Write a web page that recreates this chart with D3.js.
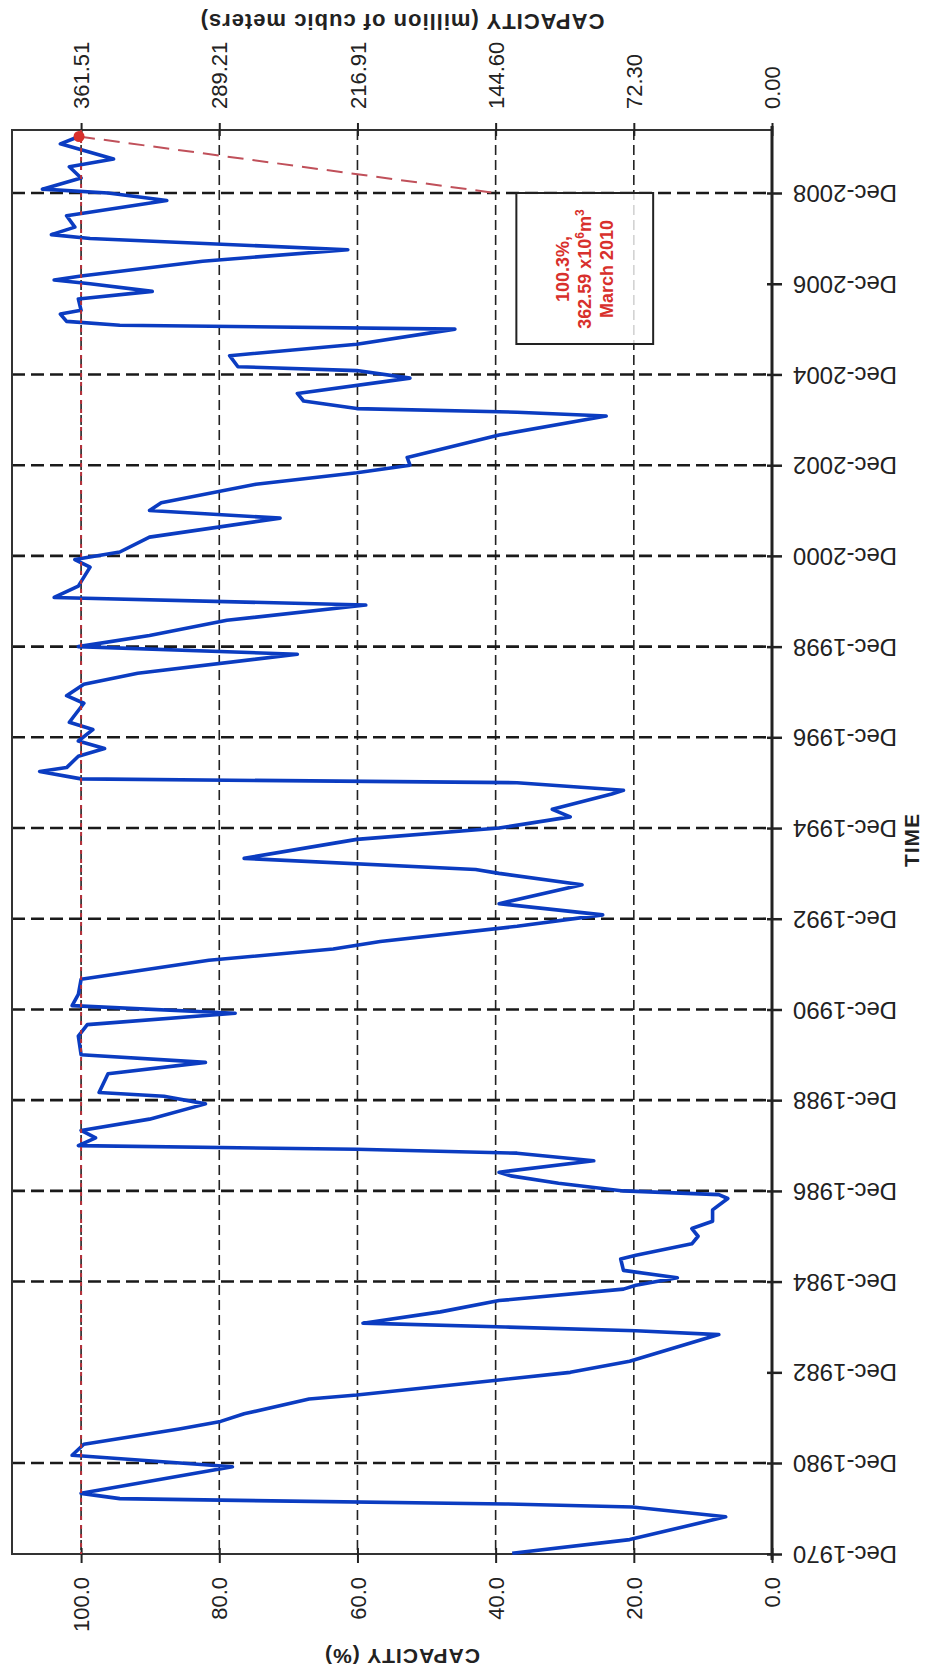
<!DOCTYPE html>
<html>
<head>
<meta charset="utf-8">
<script src="https://cdn.jsdelivr.net/npm/d3@7"></script>
<style>
  body { margin: 0; background: #fff; }
  svg { display: block; font-family: "Liberation Sans", Arial, sans-serif; }
</style>
</head>
<body>
<svg></svg>
<script>
// reservoir storage, % of full capacity (month of reading)
const months = ["1971-01","1972-07","1975-01","1976-02","1976-06","1976-11","1977-01","1977-08","1980-07","1981-02",
  "1981-05","1981-09","1981-11","1982-01","1982-05","1982-06","1982-10","1982-12","1983-03","1983-10",
  "1983-11","1983-12","1984-01","1984-04","1984-07","1984-10","1984-11","1985-01","1985-03","1985-06",
  "1985-07","1985-10","1985-12","1986-02","1986-04","1986-07","1986-10","1986-11","1986-12","1987-02",
  "1987-04","1987-05","1987-08","1987-10","1987-11","1987-12","1988-02","1988-04","1988-07","1988-11",
  "1989-01","1989-02","1989-07","1989-10","1989-12","1990-05","1990-08","1990-11","1991-01","1991-04",
  "1991-08","1992-01","1992-04","1992-06","1992-10","1993-01","1993-04","1993-09","1993-12","1994-01",
  "1994-04","1994-09","1994-12","1995-03","1995-05","1995-09","1995-10","1995-12","1996-01","1996-03",
  "1996-04","1996-07","1996-09","1996-11","1997-02","1997-04","1997-09","1997-11","1998-02","1998-05",
  "1998-10","1998-12","1999-03","1999-07","1999-11","2000-01","2000-04","2000-09","2000-11","2001-01",
  "2001-05","2001-10","2001-12","2002-02","2002-07","2002-10","2002-12","2003-02","2003-08","2004-01",
  "2004-02","2004-03","2004-05","2004-07","2004-11","2005-01","2005-02","2005-05","2005-08","2005-12",
  "2006-01","2006-02","2006-04","2006-05","2006-08","2006-10","2006-12","2007-01","2007-02","2007-06",
  "2007-09","2007-12","2008-01","2008-03","2008-06","2008-10","2008-12","2009-01","2009-04","2009-07",
  "2009-09","2010-01","2010-03"];
const capacityPct = [37.6,20.6,6.7,20.2,38.6,79.8,94.4,100,78.1,101.3,
  99.6,85.8,79.8,76.4,67,60.1,39.5,29.2,20.6,7.7,
  19.7,38.6,59.2,48,39.5,21.5,19.7,13.7,21.5,21.9,
  19.7,11.6,10.7,11.6,8.6,8.6,6.4,7.7,21.5,30.9,
  37.8,39.5,25.8,36.9,60.1,100.4,97.9,100,90.1,82,
  88,97.4,96.1,82,100,100.4,99.1,77.7,101.3,100.4,
  100,81.5,63.5,56.7,36.9,24.5,39.5,27.5,39.5,42.9,
  76.4,60.1,39.5,29.2,31.8,23.2,21.5,36.9,100,106,
  102.1,100.4,96.6,100.4,98.3,101.7,99.6,102.1,99.6,91.8,
  68.7,100.4,90.1,78.9,58.8,103.9,100.4,98.7,100.9,94.4,
  90.1,71.2,90.1,88.4,74.7,60.1,52.4,52.8,39.5,24,
  36.9,60.1,67.8,68.7,52.4,60.1,77.3,78.5,60.1,45.9,
  94.4,102.1,103,100,100.4,89.7,98.7,103.9,100,82.4,
  61.4,98.7,104.3,100.9,102.1,87.6,96.1,105.6,100,101.7,
  95.3,103,100.3];

const tickYears = [1970, 1980, 1982, 1984, 1986, 1988, 1990, 1992, 1994, 1996, 1998, 2000, 2002, 2004, 2006, 2008];
const noGridYears = [1970, 1982, 2006];
const pctTicks = [0, 20, 40, 60, 80, 100];
const fullVolume = 361.51; // million m3 at 100 %
const noteLines = ["100.3%,", "362.59 x10|6|m|3", "March 2010"];

const W = 930, H = 1673;
const plotL = 12, plotR = 772, plotT = 130, plotB = 1554;
const red = '#d8302c';

const parse = d3.timeParse('%Y-%m');
const dec = y => new Date(y, 11, 1);
const data = months.map((m, i) => ({ t: parse(m), v: capacityPct[i] }));

// chart is drawn turned a quarter turn: time runs upward, capacity runs leftward
const xV = d3.scaleLinear().domain([0, 110]).range([plotR, plotL]);
const yT = d3.scaleTime()
  .domain([dec(1970), dec(1980), dec(2008)])
  .range([plotB, 1463, 193]);

const svg = d3.select('svg').attr('width', W).attr('height', H);
svg.append('rect').attr('width', W).attr('height', H).attr('fill', '#fff');

// capacity grid lines
svg.append('g').selectAll('line')
  .data(pctTicks.filter(d => d > 0))
  .join('line')
  .attr('x1', d => xV(d)).attr('x2', d => xV(d))
  .attr('y1', plotT).attr('y2', plotB)
  .attr('stroke', '#222').attr('stroke-width', 1.6)
  .attr('stroke-dasharray', '10,5');

// time grid lines
svg.append('g').selectAll('line')
  .data(tickYears.filter(y => !noGridYears.includes(y)))
  .join('line')
  .attr('x1', plotL).attr('x2', plotR)
  .attr('y1', d => yT(dec(d))).attr('y2', d => yT(dec(d)))
  .attr('stroke', '#1a1a1a').attr('stroke-width', 2.6)
  .attr('stroke-dasharray', '13,6');

// frame
svg.append('path')
  .attr('d', `M${plotR},${plotT}H${plotL}V${plotB}H${plotR}`)
  .attr('fill', 'none').attr('stroke', '#333').attr('stroke-width', 2);
svg.append('line')
  .attr('x1', plotR).attr('x2', plotR).attr('y1', plotT - 4).attr('y2', plotB + 6)
  .attr('stroke', '#222').attr('stroke-width', 3);

const tickFont = g => g.selectAll('text')
  .attr('fill', '#222').style('font-size', '22px');

// bottom axis, %
const axB = svg.append('g').attr('transform', `translate(0,${plotB})`)
  .call(d3.axisBottom(xV).tickValues(pctTicks).tickFormat(d => d.toFixed(1)));
axB.select('.domain').remove();
axB.selectAll('line').attr('y1', -6).attr('y2', 9).attr('stroke', '#222').attr('stroke-width', 2);
axB.selectAll('text').attr('x', 0).attr('y', 0).attr('dy', '0.35em')
  .attr('text-anchor', 'end').attr('transform', 'translate(0,23) rotate(-90)');
tickFont(axB);

// top axis, million m3
const axT = svg.append('g').attr('transform', `translate(0,${plotT})`)
  .call(d3.axisTop(xV).tickValues(pctTicks).tickFormat(d => (d / 100 * fullVolume).toFixed(2)));
axT.select('.domain').remove();
axT.selectAll('line').attr('y1', -7).attr('y2', 6).attr('stroke', '#222').attr('stroke-width', 2);
axT.selectAll('text').attr('x', 0).attr('y', 0).attr('dy', '0.35em')
  .attr('text-anchor', 'start').attr('transform', 'translate(0,-21) rotate(-90)');
tickFont(axT);

// right axis, time
const axR = svg.append('g').attr('transform', `translate(${plotR},0)`)
  .call(d3.axisRight(yT).tickValues(tickYears.map(dec)).tickFormat(d => 'Dec-' + d.getFullYear()));
axR.select('.domain').remove();
axR.selectAll('line').attr('x1', -5).attr('x2', 10).attr('stroke', '#222').attr('stroke-width', 2.5);
axR.selectAll('text').attr('x', 0).attr('y', 0).attr('dy', '0.35em')
  .attr('text-anchor', 'end').attr('transform', 'translate(21,0) rotate(180)')
  .attr('fill', '#222').style('font-size', '24px');

// axis titles
const title = (txt, x, y, rot, size) => svg.append('text')
  .attr('transform', `translate(${x},${y}) rotate(${rot})`)
  .attr('text-anchor', 'middle').attr('dy', '0.35em')
  .style('font-size', size + 'px').style('font-weight', 'bold')
  .style('letter-spacing', '1px').attr('fill', '#222')
  .text(txt);
title('CAPACITY (%)', 402, 1656, 180, 21);
title('CAPACITY (million of cubic meters)', 402, 22, 180, 22);
title('TIME', 912, 840, -90, 21);

// annotation box
const corner = [xV(40), yT(dec(2008))];
svg.append('rect')
  .attr('x', xV(37)).attr('y', corner[1])
  .attr('width', xV(17.2) - xV(37)).attr('height', 151)
  .attr('fill', '#fff').attr('fill-opacity', 0.8)
  .attr('stroke', '#222').attr('stroke-width', 2);

// storage line
svg.append('path')
  .datum(data)
  .attr('d', d3.line().x(d => xV(d.v)).y(d => yT(d.t)))
  .attr('fill', 'none').attr('stroke', '#0b3cc1')
  .attr('stroke-width', 3.6).attr('stroke-linejoin', 'round');

// full-capacity reference
svg.append('line')
  .attr('x1', xV(100)).attr('x2', xV(100)).attr('y1', plotT).attr('y2', plotB)
  .attr('stroke', '#b5303a').attr('stroke-width', 2).attr('stroke-dasharray', '4,5');

// last reading, leader and note
const last = data[data.length - 1];
svg.append('line')
  .attr('x1', xV(last.v)).attr('y1', yT(last.t))
  .attr('x2', corner[0]).attr('y2', corner[1])
  .attr('stroke', '#c0505a').attr('stroke-width', 2).attr('stroke-dasharray', '16,9');
svg.append('circle')
  .attr('cx', xV(last.v)).attr('cy', yT(last.t)).attr('r', 5.5).attr('fill', red);

const noteX = (xV(37) + xV(17.2)) / 2, noteY = corner[1] + 76;
noteLines.forEach((line, i) => {
  const t = svg.append('text')
    .attr('transform', `translate(${noteX + (i - 1) * 22},${noteY}) rotate(-90)`)
    .attr('text-anchor', 'middle').attr('dy', '0.35em')
    .attr('fill', red).style('font-size', '18px').style('font-weight', 'bold');
  line.split('|').forEach((part, j) => {
    const sup = j % 2 === 1;
    t.append('tspan')
      .attr('dy', j === 0 ? null : (sup ? -7 : 7))
      .style('font-size', sup ? '12px' : null)
      .text(part);
  });
});
</script>
</body>
</html>
